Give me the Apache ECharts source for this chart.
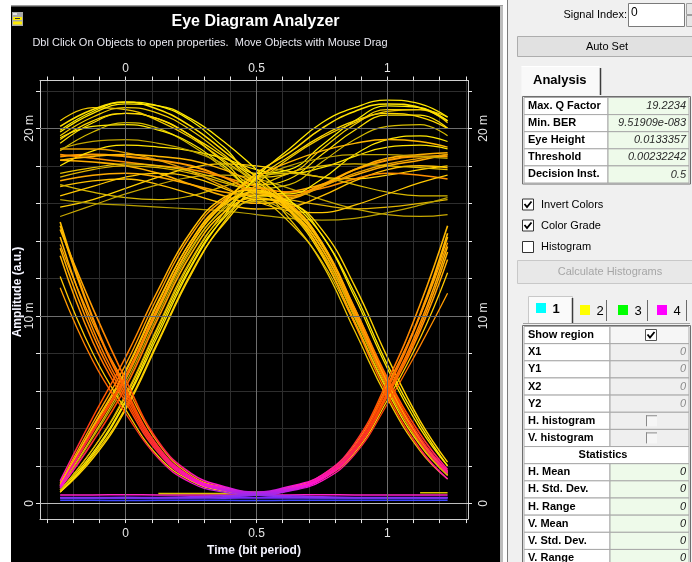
<!DOCTYPE html>
<html>
<head>
<meta charset="utf-8">
<title>Eye Diagram Analyzer</title>
<script src="https://cdn.jsdelivr.net/npm/echarts@6/dist/echarts.min.js"></script>
<style>
  html, body { margin: 0; padding: 0; background: #fff; }
  #main { width: 692px; height: 562px; }
</style>
</head>
<body>
<div id="main"></div>
<script>
// sample instants of every trace, in bit periods
const timeBase = [-0.25, -0.125, 0, 0.125, 0.25, 0.375, 0.5, 0.625, 0.75, 0.875, 1, 1.125, 1.23]

// amplitudes in milli a.u., read off the screen shot
// 1-1-1 patterns, upper rail
const railHigh = [
  [19.2, 20.3, 20.8, 20.5, 19.6, 18.2, 17.0, 17.3, 18.6, 19.9, 20.7, 20.7, 20.0],
  [19.6, 20.6, 21.1, 20.8, 19.9, 18.6, 17.4, 17.6, 18.9, 20.2, 21.0, 21.0, 20.3],
  [18.5, 18.6, 18.5, 18.3, 18.0, 17.4, 16.6, 16.4, 17.0, 17.8, 18.3, 18.5, 18.5],
  [18.3, 18.2, 18.0, 17.6, 17.0, 16.4, 16.0, 16.2, 16.9, 17.8, 18.4, 18.6, 18.7],
  [17.4, 17.8, 18.0, 17.9, 17.6, 17.1, 16.6, 16.2, 15.9, 15.7, 15.8, 16.0, 16.2],
  [16.9, 17.2, 17.3, 17.0, 16.5, 16.0, 15.7, 15.8, 16.4, 17.2, 17.8, 18.0, 17.9],
  [15.3, 15.9, 16.5, 17.0, 17.4, 17.5, 17.3, 16.8, 16.2, 15.7, 15.4, 15.3, 15.4],
  [15.8, 16.2, 16.8, 17.4, 17.9, 18.1, 18.0, 17.7, 17.4, 17.3, 17.5, 17.8, 18.0],
  [16.2, 16.0, 15.9, 15.8, 15.7, 15.6, 15.4, 15.2, 15.1, 15.2, 15.5, 15.9, 16.3],
  [17.2, 17.5, 17.6, 17.4, 17.0, 16.6, 16.4, 16.6, 17.0, 17.5, 18.0, 18.3, 18.6],
  [18.0, 18.8, 19.1, 19.0, 18.8, 18.4, 17.8, 17.6, 17.9, 18.5, 19.0, 19.1, 18.9],
  [18.6, 18.4, 18.2, 18.0, 17.8, 17.4, 16.9, 16.6, 16.8, 17.3, 17.6, 17.5, 17.3],
  [17.0, 16.6, 16.3, 16.2, 16.4, 16.9, 17.4, 17.6, 17.4, 17.0, 16.6, 16.4, 16.4],
  [16.4, 16.9, 17.4, 17.6, 17.4, 16.8, 16.1, 15.6, 15.5, 15.9, 16.5, 17.1, 17.5],
  [19.9, 20.9, 21.4, 21.2, 20.4, 19.0, 17.6, 17.8, 19.1, 20.4, 21.2, 21.1, 20.4],
  [18.8, 19.8, 20.3, 20.0, 19.1, 17.9, 16.8, 17.0, 18.2, 19.4, 20.1, 20.2, 19.6],
  [19.5, 20.1, 20.2, 19.9, 19.2, 18.0, 16.7, 16.5, 17.3, 18.6, 19.4, 19.6, 19.3],
  [18.9, 18.9, 18.7, 18.3, 17.7, 16.9, 16.2, 16.3, 16.9, 17.6, 18.1, 18.4, 18.6]
]
// 1-1-0 patterns
const fallHigh = [
  [20.1, 21.0, 21.4, 21.0, 20.1, 18.8, 17.4, 15.9, 13.8, 10.4, 6.7, 3.7, 1.8],
  [19.4, 20.4, 20.8, 20.5, 19.6, 18.5, 17.2, 15.6, 13.2, 9.7, 6.0, 3.1, 1.5],
  [20.4, 21.1, 21.0, 20.4, 19.5, 18.3, 17.0, 15.2, 12.8, 9.2, 5.6, 2.8, 1.3],
  [18.9, 19.3, 19.4, 19.2, 18.8, 18.1, 17.2, 15.8, 13.6, 10.2, 6.5, 3.5, 1.7],
  [18.3, 18.5, 18.6, 18.5, 18.3, 17.8, 17.0, 15.6, 13.4, 10.0, 6.4, 3.4, 1.6],
  [19.8, 20.8, 21.3, 21.2, 20.5, 19.3, 17.8, 16.2, 14.3, 11.2, 7.4, 4.2, 2.0],
  [17.6, 17.9, 18.1, 18.0, 17.7, 17.2, 16.4, 15.0, 12.9, 9.6, 6.1, 3.3, 1.6]
]
// 0-1-1 patterns
const riseHigh = [
  [0.9, 3.8, 6.7, 10.4, 13.8, 16.0, 17.6, 18.7, 20.0, 20.9, 21.3, 21.1, 20.4],
  [0.7, 2.9, 5.7, 9.4, 12.9, 15.5, 17.3, 18.5, 19.6, 20.4, 20.8, 20.6, 20.0],
  [0.6, 2.5, 5.1, 8.7, 12.3, 15.0, 17.0, 18.4, 19.5, 20.3, 20.9, 21.0, 20.6],
  [1.0, 4.1, 7.1, 10.8, 14.0, 16.1, 17.4, 18.2, 18.8, 19.2, 19.4, 19.3, 19.0],
  [0.8, 3.5, 6.4, 10.1, 13.5, 15.8, 17.2, 18.0, 18.4, 18.6, 18.6, 18.5, 18.4],
  [0.6, 2.6, 5.4, 9.0, 12.6, 15.3, 17.4, 18.9, 20.3, 21.1, 21.5, 21.3, 20.6],
  [0.9, 3.6, 6.6, 10.3, 13.6, 15.7, 16.8, 17.6, 18.0, 18.1, 18.0, 17.9, 17.8]
]
// 0-1-0 pulses
const pulseOne = [
  [0.9, 3.9, 6.8, 10.5, 13.8, 15.9, 16.6, 15.9, 13.9, 10.4, 6.6, 3.5, 1.7],
  [0.8, 3.3, 6.2, 9.9, 13.3, 15.5, 16.3, 15.6, 13.6, 10.1, 6.3, 3.3, 1.6],
  [1.1, 4.3, 7.4, 11.1, 14.3, 16.2, 16.8, 16.0, 13.9, 10.3, 6.4, 3.2, 1.5],
  [0.6, 2.4, 5.0, 8.6, 12.2, 14.9, 16.2, 16.0, 14.6, 11.6, 7.8, 4.4, 2.2],
  [0.7, 2.7, 5.5, 9.2, 12.7, 15.2, 16.4, 16.1, 14.3, 11.0, 7.2, 4.0, 2.0],
  [1.2, 4.6, 7.8, 11.4, 14.5, 16.3, 16.7, 15.7, 13.3, 9.6, 5.8, 2.9, 1.3],
  [1.0, 4.0, 7.0, 10.7, 14.0, 16.0, 16.5, 15.8, 13.8, 10.3, 6.5, 3.4, 1.7],
  [0.7, 2.9, 5.8, 9.5, 13.0, 15.3, 16.1, 15.4, 13.4, 9.9, 6.2, 3.2, 1.5]
]
// 1-0-1 notches
const notchZero = [
  [15.0, 9.9, 6.1, 3.0, 1.4, 0.8, 0.55, 0.8, 1.4, 3.0, 6.2, 10.1, 14.4],
  [14.2, 9.3, 5.8, 2.9, 1.35, 0.75, 0.5, 0.75, 1.35, 2.9, 5.9, 9.6, 13.7],
  [13.2, 8.6, 5.4, 2.7, 1.25, 0.7, 0.5, 0.7, 1.3, 2.8, 5.7, 9.2, 13.0],
  [12.1, 8.0, 5.0, 2.5, 1.2, 0.65, 0.45, 0.7, 1.3, 2.7, 5.5, 8.8, 12.3],
  [11.5, 7.6, 4.8, 2.4, 1.1, 0.6, 0.45, 0.65, 1.2, 2.6, 5.3, 8.4, 11.2],
  [14.6, 10.4, 6.6, 3.3, 1.6, 0.9, 0.6, 0.9, 1.5, 3.2, 6.5, 10.6, 14.8],
  [13.8, 9.6, 6.3, 3.2, 1.5, 0.85, 0.6, 0.85, 1.5, 3.1, 6.3, 10.0, 13.9]
]
// 1-0-0 and 0-0-1
const fallLow = [
  [14.8, 9.8, 6.0, 3.0, 1.4, 0.8, 0.5, 0.4, 0.35, 0.3, 0.3, 0.3, 0.3],
  [13.6, 9.0, 5.6, 2.8, 1.3, 0.7, 0.45, 0.35, 0.3, 0.3, 0.3, 0.3, 0.3]
]
const riseLow = [
  [0.3, 0.3, 0.3, 0.3, 0.35, 0.4, 0.5, 0.8, 1.4, 3.0, 6.1, 10.0, 14.2],
  [0.3, 0.3, 0.3, 0.3, 0.3, 0.35, 0.45, 0.7, 1.3, 2.8, 5.8, 9.4, 13.4]
]
// 0-0-0, lower rail
const railLow = [
  [0.3, 0.3, 0.31, 0.3, 0.3, 0.29, 0.3, 0.3, 0.31, 0.3, 0.3, 0.3, 0.3],
  [0.45, 0.45, 0.46, 0.45, 0.45, 0.44, 0.45, 0.45, 0.46, 0.45, 0.45, 0.45, 0.45],
  [0.16, 0.16, 0.15, 0.16, 0.16, 0.16, 0.15, 0.16, 0.16, 0.16, 0.16, 0.16, 0.16],
  [null, null, null, 0.52, 0.52, 0.52, 0.52, null, null, null, null, 0.56, 0.56]
]

const xMinorTicks = [-0.3, -0.2, -0.1, 0, 0.1, 0.2, 0.3, 0.4, 0.5, 0.6, 0.7, 0.8, 0.9, 1, 1.1, 1.2, 1.3]
const xLabels = [0, 0.5, 1]
const yMinorTicks = [0, 2, 4, 6, 8, 10, 12, 14, 16, 18, 20, 22]
const yLabels = [0, 10, 20]

// right hand panel texts
const analysisRows = [
  ['Max. Q Factor', '19.2234'],
  ['Min. BER', '9.51909e-083'],
  ['Eye Height', '0.0133357'],
  ['Threshold', '0.00232242'],
  ['Decision Inst.', '0.5']
]
const checkRows = [['Invert Colors', true], ['Color Grade', true], ['Histogram', false]]
const tabRows = [['1', '#00ffff'], ['2', '#ffff00'], ['3', '#00ff00'], ['4', '#ff00ff']]
const regionRows = [['Show region', 'check'], ['X1', '0'], ['Y1', '0'], ['X2', '0'], ['Y2', '0'], ['H. histogram', 'box'], ['V. histogram', 'box']]
const statRows = ['H. Mean', 'H. Std. Dev.', 'H. Range', 'V. Mean', 'V. Std. Dev.', 'V. Range']

const font = '"Liberation Sans", Arial, sans-serif'
// colour grade, low amplitude (dense) to high amplitude
const warmRamp = ['#4a3cff', '#ff12d2', '#ff1a8a', '#ff2a3a', '#ff3a18', '#ff4c00', '#ff5e00', '#ff6e00',
  '#ff7c00', '#ff8800', '#ff9400', '#ff9e00', '#ffa800', '#ffb000', '#ffb800', '#ffbe00', '#ffc400',
  '#ffca00', '#ffd000', '#ffd600', '#ffdc00', '#ffe200', '#ffe800']

const series = []
const warmIdx = []
const pts = v => timeBase.map((t, i) => [t, v[i] === null ? '-' : v[i]])
const addTraces = (list, colors, widths) => {
  list.forEach((v, i) => {
    const c = colors[i % colors.length]
    const warm = c === 'warm'
    if (warm) warmIdx.push(series.length)
    series.push({
      type: 'line',
      data: pts(v),
      showSymbol: false,
      smooth: 0.45,
      silent: true,
      z: warm ? 4 : 3,
      lineStyle: warm ? { width: widths[i % widths.length] } : { width: widths[i % widths.length], color: c },
      itemStyle: warm ? {} : { color: c }
    })
  })
}

// major grid lines and zero level
series.push({
  type: 'line',
  data: [],
  silent: true,
  z: 1,
  markLine: {
    silent: true,
    symbol: 'none',
    label: { show: false },
    lineStyle: { color: '#6e6e6e', type: 'solid', width: 1 },
    data: [
      { xAxis: 0 }, { xAxis: 0.5 }, { xAxis: 1 }, { yAxis: 10 }, { yAxis: 20 },
      { yAxis: 0, lineStyle: { color: '#bdbdbd' } }
    ]
  }
})

addTraces(railHigh,
  ['#ffe000', '#f2cc00', '#ff9c00', '#ffb000', '#e0b400', '#ffc000', '#c8a800', '#ffd000',
    '#b8a000', '#ffaa00', '#ffe400', '#ff9000', '#d8b800', '#ffc800', '#fff000', '#d6bc00', '#ffe800', '#e8a000'],
  [1.2, 1.2, 2, 1.6, 1.2, 1.4, 1.2, 1.2, 1.2, 1.6, 1.2, 1.6, 1.2, 1.2, 1.2, 1.2, 1.2, 1.4])
addTraces(fallHigh, ['warm', '#ffd800', '#f0c800', '#c0a400', '#ffb800', '#ffe600', '#e6c000'], [1.6, 1.3, 1.3, 1.2, 1.4, 1.3, 1.2])
addTraces(riseHigh, ['warm', '#ffd800', '#f0c800', '#ffb800', '#c0a400', '#ffe600', '#e6c000'], [1.6, 1.3, 1.3, 1.4, 1.2, 1.3, 1.2])
addTraces(pulseOne, ['warm', 'warm', '#ffa000', '#ffd200', '#ffe400', 'warm', '#ffc000', '#d8b400'], [1.6, 1.6, 1.4, 1.4, 1.3, 1.5, 1.3, 1.2])
addTraces(notchZero, ['warm', 'warm', 'warm', '#ffc800', 'warm', 'warm', '#ffa000'], [1.6, 1.5, 1.5, 1.3, 1.3, 1.6, 1.3])
addTraces(fallLow, ['warm'], [1.5])
addTraces(riseLow, ['warm'], [1.5])
addTraces(railLow, ['#7a28ff', '#ff20c8', '#3c48ff', '#d8c000'], [2, 1.5, 1.5, 1.5])

// ---- graphic elements: background, title, side panel
const g = []
const rect = (x, y, w, h, fill, stroke, z) => g.push({
  type: 'rect', silent: true, z: z === undefined ? 50 : z,
  shape: { x, y, width: w, height: h },
  style: { fill: fill || 'none', stroke: stroke || 'none', lineWidth: 1 }
})
const line = (x1, y1, x2, y2, color, w) => g.push({
  type: 'line', silent: true, z: 51,
  shape: { x1, y1, x2, y2 }, style: { stroke: color, lineWidth: w || 1 }
})
const text = (x, y, str, f, fill, align, rot) => g.push({
  type: 'text', silent: true, z: 52, x, y, rotation: rot || 0,
  style: { text: str, font: f, fill: fill || '#000', textAlign: align || 'left', textVerticalAlign: 'middle' }
})
const tick = (x, y) => g.push({
  type: 'polyline', silent: true, z: 53,
  shape: { points: [[x + 2, y + 5], [x + 4.5, y + 8], [x + 9, y + 2.5]] },
  style: { stroke: '#000', lineWidth: 1.8, fill: 'none' }
})

// scope window
rect(11, 6, 492, 556, '#000', null, -10)
rect(11, 5, 492, 1.5, '#9c9c9c', null, -9)
rect(500, 6, 3, 556, '#bdbdbd', null, -9)
rect(12, 12, 11, 14, '#a8a8a8', null, 5)
rect(13, 13, 4, 2, '#e0e0e0', null, 6)
rect(13, 17, 9, 3, '#ffec00', null, 6)
rect(13, 21.5, 9, 3, '#ffec00', null, 6)
rect(15, 18, 5, 1, '#333', null, 7)
text(255.5, 22, 'Eye Diagram Analyzer', 'bold 16px ' + font, '#fff', 'center')
text(210, 43, 'Dbl Click On Objects to open properties.  Move Objects with Mouse Drag', '11px ' + font, '#e8e8f0', 'center')
text(18, 292, 'Amplitude (a.u.)', 'bold 12px ' + font, '#f4f4ff', 'center', Math.PI / 2)

// side panel
rect(508, 0, 184, 562, '#f0f0f0', null, 40)
line(507.5, 0, 507.5, 562, '#7c7c7c')
text(627, 14.5, 'Signal Index:', '11px ' + font, '#000', 'right')
rect(628.5, 3.5, 56, 23, '#fff', '#7a7a7a')
text(631, 13, '0', '12px ' + font, '#000')
rect(686.5, 3.5, 8, 11, '#e6e6e6', '#a0a0a0')
rect(686.5, 15.5, 8, 11, '#e6e6e6', '#a0a0a0')
rect(517.5, 36.5, 180, 20, '#e1e1e1', '#adadad')
text(607, 46.5, 'Auto Set', '11px ' + font, '#000', 'center')

rect(521.5, 66.5, 78, 29, '#f9f9f9', null)
line(521.5, 66.5, 599.5, 66.5, '#ffffff')
line(600.5, 68, 600.5, 95, '#3c3c3c', 1.5)
text(533, 80.5, 'Analysis', 'bold 13px ' + font, '#000')

const aTop = 97.5, aH = 17.1
rect(522.5, 96.5, 168, analysisRows.length * aH + 2, '#fff', '#6e6e6e')
analysisRows.forEach((r, i) => {
  const y = aTop + i * aH
  rect(524, y, 84, aH, '#fff', '#a8a8a8')
  rect(608, y, 81, aH, '#eefaea', '#a8a8a8')
  text(528, y + aH / 2, r[0], 'bold 11px ' + font, '#000')
  text(686, y + aH / 2, r[1], 'italic 11px ' + font, '#2a2a2a', 'right')
})

checkRows.forEach((r, i) => {
  const cy = [204.5, 225.5, 247][i]
  rect(522.5, cy - 5.5, 11, 11, '#fff', '#333')
  if (r[1]) tick(522.5, cy - 5.5)
  text(541, cy, r[0], '11px ' + font, '#000')
})

rect(517.5, 260.5, 180, 23, '#e8e8e8', '#c8c8c8')
text(610, 272, 'Calculate Histograms', '11px ' + font, '#a6a6a6', 'center')

line(523, 323.5, 690, 323.5, '#a0a0a0')
rect(528.5, 296.5, 44, 27, '#fafafa', '#c8c8c8')
line(572.5, 298, 572.5, 323, '#3c3c3c', 1.5)
const tabX = [536, 580, 618, 657]
tabRows.forEach((r, i) => {
  rect(tabX[i], 303 + (i ? 2 : 0), 10, 10, r[1], null, 52)
  text(tabX[i] + 20, 309.5 + (i ? 1.5 : 0), r[0], (i ? '' : 'bold ') + '13px ' + font, '#000', 'center')
})
;[606.5, 647.5, 686.5].forEach(x => line(x, 300, x, 321, '#6a6a6a'))

const rTop = 326.5, rH = 17.15
const allRows = regionRows.length + 1 + statRows.length
rect(522.5, rTop - 1, 168, allRows * rH + 2, '#fff', '#6e6e6e')
regionRows.forEach((r, i) => {
  const y = rTop + i * rH
  rect(524, y, 86, rH, '#fff', '#a8a8a8')
  rect(610, y, 79, rH, i ? '#efefef' : '#f6f6f6', '#a8a8a8')
  text(528, y + rH / 2, r[0], 'bold 11px ' + font, '#000')
  if (r[1] === 'check') {
    rect(645.5, y + 3, 11, 11, '#fff', '#555')
    tick(645.5, y + 3)
  } else if (r[1] === 'box') {
    rect(646, y + 3, 11, 11, '#f6f6f6', null)
    line(646, y + 3.5, 657, y + 3.5, '#8a8a8a')
    line(646.5, y + 3, 646.5, y + 14, '#8a8a8a')
  } else {
    text(686, y + rH / 2, r[1], 'italic 11px ' + font, '#8c8c8c', 'right')
  }
})
const sY = rTop + regionRows.length * rH
rect(524, sY, 165, rH, '#fff', '#a8a8a8')
text(603, sY + rH / 2, 'Statistics', 'bold 11px ' + font, '#000', 'center')
statRows.forEach((s, i) => {
  const y = sY + (i + 1) * rH
  rect(524, y, 86, rH, '#fff', '#a8a8a8')
  rect(610, y, 79, rH, '#eefaea', '#a8a8a8')
  text(528, y + rH / 2, s, 'bold 11px ' + font, '#000')
  text(686, y + rH / 2, '0', 'italic 11px ' + font, '#1a1a1a', 'right')
})

const frame = { show: true, onZero: false, lineStyle: { color: '#d0d0d0', width: 1 } }
const tickStyle = { color: '#e8e8e8', width: 1 }
const xBase = {
  type: 'value', min: -0.327, max: 1.308,
  axisLine: frame,
  axisTick: { show: true, customValues: xMinorTicks, length: 4, lineStyle: tickStyle },
  axisLabel: { customValues: xLabels, color: '#e6e6e6', fontSize: 12, fontFamily: font }
}
const yBase = {
  type: 'value', min: -0.84, max: 22.55,
  axisLine: frame,
  axisTick: { show: true, customValues: yMinorTicks, length: 4, lineStyle: tickStyle },
  axisLabel: {
    customValues: yLabels, color: '#e6e6e6', fontSize: 12, fontFamily: font, rotate: 90,
    formatter: v => (v === 0 ? '0' : v + ' m')
  }
}

const chart = echarts.init(document.getElementById('main'), null, { renderer: 'canvas' })
chart.setOption({
  backgroundColor: '#ffffff',
  animation: false,
  grid: { left: 40, right: 224, top: 80.5, bottom: 37, containLabel: false },
  xAxis: [
    Object.assign({}, xBase, {
      position: 'bottom',
      axisLabel: Object.assign({}, xBase.axisLabel, { margin: 9 }),
      splitLine: { show: true, lineStyle: { color: '#2e2e2e', width: 1 } },
      name: 'Time (bit period)', nameLocation: 'middle', nameGap: 24,
      nameTextStyle: { color: '#f4f4ff', fontWeight: 'bold', fontSize: 12, fontFamily: font }
    }),
    Object.assign({}, xBase, {
      position: 'top',
      axisLabel: Object.assign({}, xBase.axisLabel, { margin: 6 }),
      splitLine: { show: false }
    })
  ],
  yAxis: [
    Object.assign({}, yBase, {
      position: 'left',
      axisLabel: Object.assign({}, yBase.axisLabel, { margin: 4 }),
      splitLine: { show: true, lineStyle: { color: '#2e2e2e', width: 1 } }
    }),
    Object.assign({}, yBase, {
      position: 'right',
      axisLabel: Object.assign({}, yBase.axisLabel, { margin: 10 }),
      splitLine: { show: false }
    })
  ],
  visualMap: [{
    show: false, type: 'continuous', dimension: 1, seriesIndex: warmIdx,
    min: 0, max: 22, inRange: { color: warmRamp }
  }],
  graphic: { elements: g },
  series
})
</script>
</body>
</html>
